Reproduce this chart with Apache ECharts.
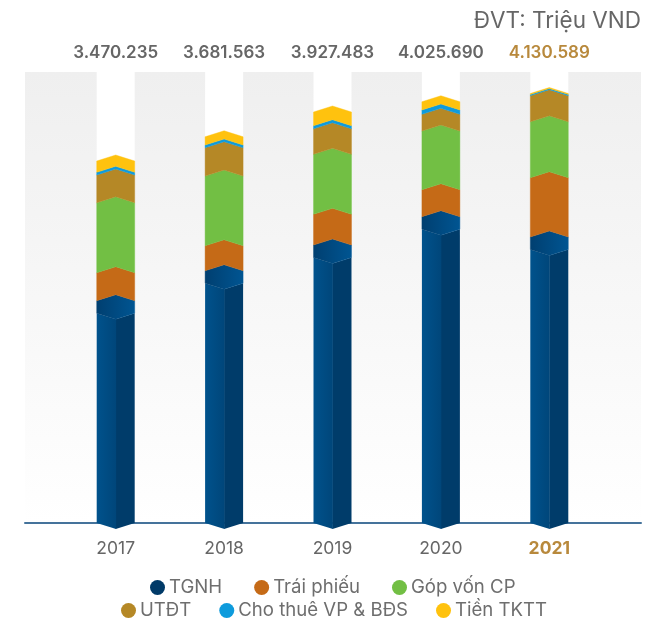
<!DOCTYPE html>
<html><head><meta charset="utf-8">
<style>html,body{margin:0;padding:0;background:#fff}#c{width:646px;height:620px}</style>
<script src="https://cdn.jsdelivr.net/npm/echarts@6/dist/echarts.min.js"></script>
</head><body><div id="c"></div>
<script>
const years = ['2017','2018','2019','2020','2021'];
const totals = ['3.470.235','3.681.563','3.927.483','4.025.690','4.130.589'];
const tgnh    = [2127000,2414000,2660000,2931000,2737000];
const traiPhieu = [268000,239000,294000,258000,567000];
const gopVon  = [670000,667000,574000,562000,536000];
const utdt    = [265000,271000,245000,160000,249000];
const choThue = [26000,26000,29000,41000,11000];
const tienTktt = [108000,79000,131000,79000,10000];

const names = ['TGNH','Trái phiếu','Góp vốn CP','UTĐT','Cho thuê VP & BĐS','Tiền TKTT'];
const values = [tgnh,traiPhieu,gopVon,utdt,choThue,tienTktt];
const colors = ['#003a68','#c56a17','#72bf44','#b58826','#0e9bdc','#ffc20e'];
const GOLD = '#b8893c', GREY = '#666666', FONT = 'Inter, Roboto, sans-serif';
const BAR_RATIO = 38/108.4, RISE = 6, BG_TOP = 4316000;

function grad(a,b){return {type:'linear',x:0,y:0,x2:1,y2:0,colorStops:[{offset:0,color:a},{offset:1,color:b}]};}

function renderSeg(sIdx){
  return function(params,api){
    const x = api.coord([api.value(0),0])[0];
    const hw = api.size([1,0])[0]*BAR_RATIO/2;
    const yB = api.coord([0,api.value(1)])[1];
    const yT = api.coord([0,api.value(2)])[1];
    if(sIdx>0){
      return {type:'polygon',shape:{points:[[x-hw,yT],[x,yT-RISE],[x+hw,yT],[x+hw,yB],[x,yB-RISE],[x-hw,yB]]},
        style:{fill:colors[sIdx],stroke:colors[sIdx],lineWidth:0.4}};
    }
    return {type:'group',children:[
      {type:'polygon',shape:{points:[[x,yT+18.5],[x+hw,yT+12.5],[x+hw,yB],[x,yB+RISE]]},style:{fill:'#003c6a'}},
      {type:'polygon',shape:{points:[[x-hw,yT+12.5],[x+0.4,yT+18.5],[x+0.4,yB+RISE],[x-hw,yB]]},style:{fill:grad('#00528c','#00467a')}},
      {type:'polygon',shape:{points:[[x-hw,yT],[x,yT-RISE],[x+hw,yT],[x+hw,yT+12.5],[x,yT+18.5],[x-hw,yT+12.5]]},style:{fill:grad('#003f70','#005592'),stroke:grad('#003f70','#005592'),lineWidth:0.4}}
    ]};
  };
}

const bgData = [0,1,2,3,4,5].map(i=>[i]);
const series = [{
  type:'custom',xAxisIndex:0,yAxisIndex:0,z:1,silent:true,data:bgData,clip:false,
  renderItem:function(params,api){
    const i = api.value(0);
    const band = api.size([1,0])[0];
    const hw = band*BAR_RATIO/2;
    const x0 = api.coord([0,0])[0];
    const left = i===0 ? 25 : x0+(i-1)*band+hw;
    const right = i===5 ? 641 : x0+i*band-hw;
    const yTop = api.coord([0,BG_TOP])[1], yBot = api.coord([0,0])[1];
    return {type:'rect',shape:{x:left,y:yTop,width:right-left,height:yBot-yTop},
      style:{fill:{type:'linear',x:0,y:0,x2:0,y2:1,colorStops:[{offset:0,color:'#efefef'},{offset:1,color:'#ffffff'}]}}};
  }
}];
names.forEach((n,s)=>{
  series.push({
    name:n,type:'custom',xAxisIndex:0,yAxisIndex:0,z:5,clip:false,
    itemStyle:{color:colors[s]},
    encode:{x:0,y:[1,2]},
    data:years.map((y,i)=>{
      let b=0; for(let k=0;k<s;k++) b+=values[k][i];
      return [i,b,b+values[s][i]];
    }),
    renderItem:renderSeg(s)
  });
});

const chart = echarts.init(document.getElementById('c'),null,{renderer:'canvas'});
const legendBase = {icon:'circle',itemWidth:15,itemHeight:15,itemGap:28,padding:0,
  textStyle:{color:'#6e6e6e',fontSize:18.6,fontFamily:FONT,padding:[0,0,0,-1]}};
chart.setOption({
  animation:false,
  backgroundColor:'#ffffff',
  title:{text:'ĐVT: Triệu VND',right:5,top:10,padding:0,textStyle:{color:GREY,fontSize:22.5,fontWeight:400,fontFamily:FONT}},
  legend:[
    Object.assign({},legendBase,{left:150,top:578,itemGap:32,data:names.slice(0,3)}),
    Object.assign({},legendBase,{left:121,top:601,data:names.slice(3)})
  ],
  grid:[
    {left:61.5,width:542,top:63.2,bottom:97},
    {left:25,width:616,top:63.2,bottom:97}
  ],
  xAxis:[
    {type:'category',gridIndex:0,data:years.map(y=>y==='2021'?{value:y,textStyle:{color:GOLD,fontWeight:700}}:y),
      axisLine:{show:false},axisTick:{show:false},
      axisLabel:{color:GREY,fontSize:17.5,fontFamily:FONT,margin:17}},
    {type:'category',gridIndex:0,position:'top',
      data:totals.map((t,i)=>i===4?{value:t,textStyle:{color:GOLD}}:t),
      axisLine:{show:false},axisTick:{show:false},
      axisLabel:{color:GREY,fontSize:17,fontWeight:600,fontFamily:FONT,margin:2,interval:0}},
    {type:'value',gridIndex:1,min:0,max:1,z:3,
      axisLine:{show:true,lineStyle:{color:'#45739b',width:2}},axisTick:{show:false},axisLabel:{show:false},splitLine:{show:false}}
  ],
  yAxis:[
    {type:'value',gridIndex:0,min:0,max:4400000,show:false,splitLine:{show:false}},
    {type:'value',gridIndex:1,min:0,max:1,show:false,splitLine:{show:false}}
  ],
  series:series
});
</script></body></html>
